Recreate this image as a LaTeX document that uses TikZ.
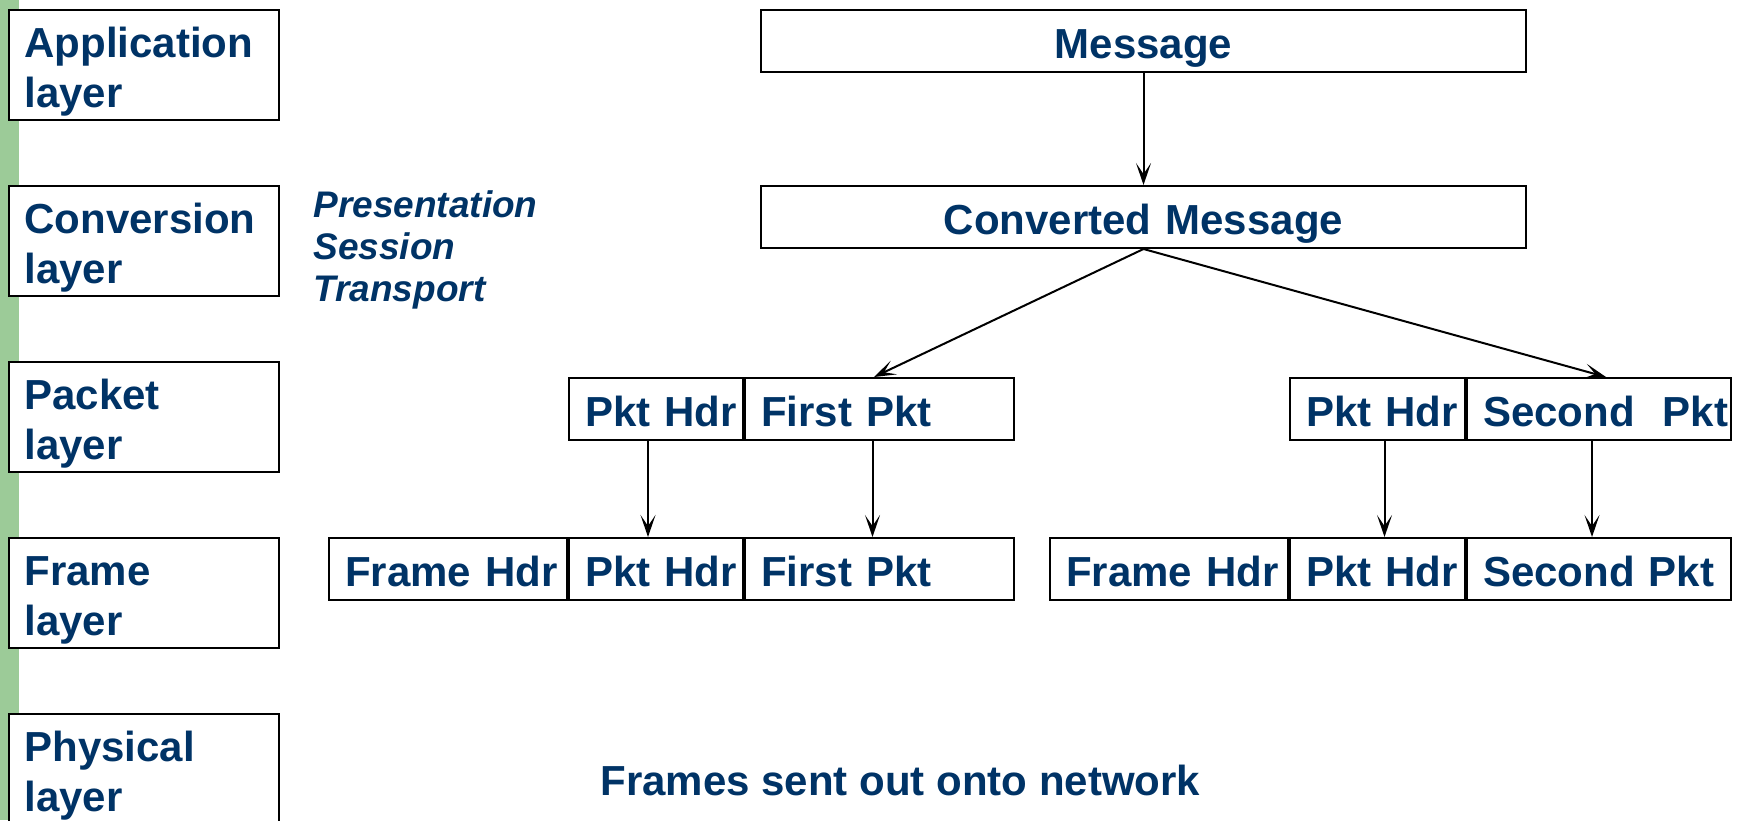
\documentclass[tikz,border=0pt]{standalone}
\usepackage{fontspec}
\setmainfont{Liberation Sans}
\usetikzlibrary{arrows.meta}
\definecolor{txtblue}{HTML}{003366}
\definecolor{bargreen}{HTML}{9CCB98}
\begin{document}
\begin{tikzpicture}[x=0.5pt,y=-0.5pt,
  every node/.style={text=txtblue, font=\fontsize{21}{25}\selectfont\bfseries},
  layerbox/.style={draw=black, fill=white, line width=1pt, anchor=north west, minimum width=135pt, minimum height=55pt, inner sep=0pt},
  layertext/.style={anchor=base west, inner sep=0pt},
  cell/.style={draw=black, line width=1pt, anchor=north west, inner xsep=8pt, inner ysep=0pt, minimum height=31pt, align=left, text height=1.7em, text depth=0em},
  wide/.style={cell, align=center, inner xsep=0pt},
  osi/.style={anchor=base west, inner sep=0pt, font=\fontsize{18.5}{21}\selectfont\bfseries\itshape},
  arr/.style={-{Stealth[length=11pt,width=7.5pt,inset=5.5pt]}, line width=1pt}
]
\useasboundingbox (0,0) rectangle (1738,820);
\clip (0,0) rectangle (1738,820);
\fill[bargreen] (0,0) rectangle (19,820);

% layer labels
\node[layerbox] (appbox) at (8,9) {};
\node[layertext] (applbl) at (24,57) {\begin{tabular}[t]{@{}l@{}}Application\\layer\end{tabular}};
\node[layerbox] (convbox) at (8,185) {};
\node[layertext] (convlbl) at (24,233) {\begin{tabular}[t]{@{}l@{}}Conversion\\layer\end{tabular}};
\node[layerbox] (pktbox) at (8,361) {};
\node[layertext] (pktlbl) at (24,409) {\begin{tabular}[t]{@{}l@{}}Packet\\layer\end{tabular}};
\node[layerbox] (frmbox) at (8,537) {};
\node[layertext] (frmlbl) at (24,585) {\begin{tabular}[t]{@{}l@{}}Frame\\layer\end{tabular}};
\node[layerbox] (phybox) at (8,713) {};
\node[layertext] (phylbl) at (24,761) {\begin{tabular}[t]{@{}l@{}}Physical\\layer\end{tabular}};

\node[osi] (osi) at (313,217) {\begin{tabular}[t]{@{}l@{}}Presentation\\Session\\Transport\end{tabular}};

% message boxes
\node[wide, text width=382.5pt] (msg) at (760,9) {Message};
\node[wide, text width=382.5pt] (conv) at (760,185) {Converted Message};

% packets
\node[cell, text width=71pt] (ph1) at (568,377) {\mbox{Pkt Hdr}};
\node[cell, text width=118.5pt] (fp1) at (744,377) {\mbox{First Pkt}};
\node[cell, text width=71.5pt] (ph2) at (1289,377) {\mbox{Pkt Hdr}};
\node[cell, text width=116pt] (sp2) at (1466,377) {\mbox{Second\ \ Pkt}};

% frames
\node[cell, text width=103pt] (fh1f) at (328,537) {\mbox{Frame Hdr}};
\node[cell, text width=71pt] (ph1f) at (568,537) {\mbox{Pkt Hdr}};
\node[cell, text width=118.5pt] (fp1f) at (744,537) {\mbox{First Pkt}};
\node[cell, text width=103pt] (fh2f) at (1049,537) {\mbox{Frame Hdr}};
\node[cell, text width=71.5pt] (ph2f) at (1289,537) {\mbox{Pkt Hdr}};
\node[cell, text width=116pt] (sp2f) at (1466,537) {\mbox{Second Pkt}};

\node[anchor=base west, inner sep=0pt] (sent) at (600,795) {Frames sent out onto network};

% connectors
\draw[arr] (msg.south) -- (conv.north);
\draw[arr] (conv.south) -- ([xshift=-2.75pt]fp1.north);
\draw[arr] (conv.south) -- ([xshift=3.5pt]sp2.north);
\draw[arr] ([xshift=-4pt]ph1.south) -- ([xshift=-4pt]ph1f.north);
\draw[arr] ([xshift=-3.5pt]fp1.south) -- ([xshift=-3.5pt]fp1f.north);
\draw[arr] ([xshift=3.5pt]ph2.south) -- ([xshift=3.5pt]ph2f.north);
\draw[arr] ([xshift=-3.5pt]sp2.south) -- ([xshift=-3.5pt]sp2f.north);
\end{tikzpicture}
\end{document}
